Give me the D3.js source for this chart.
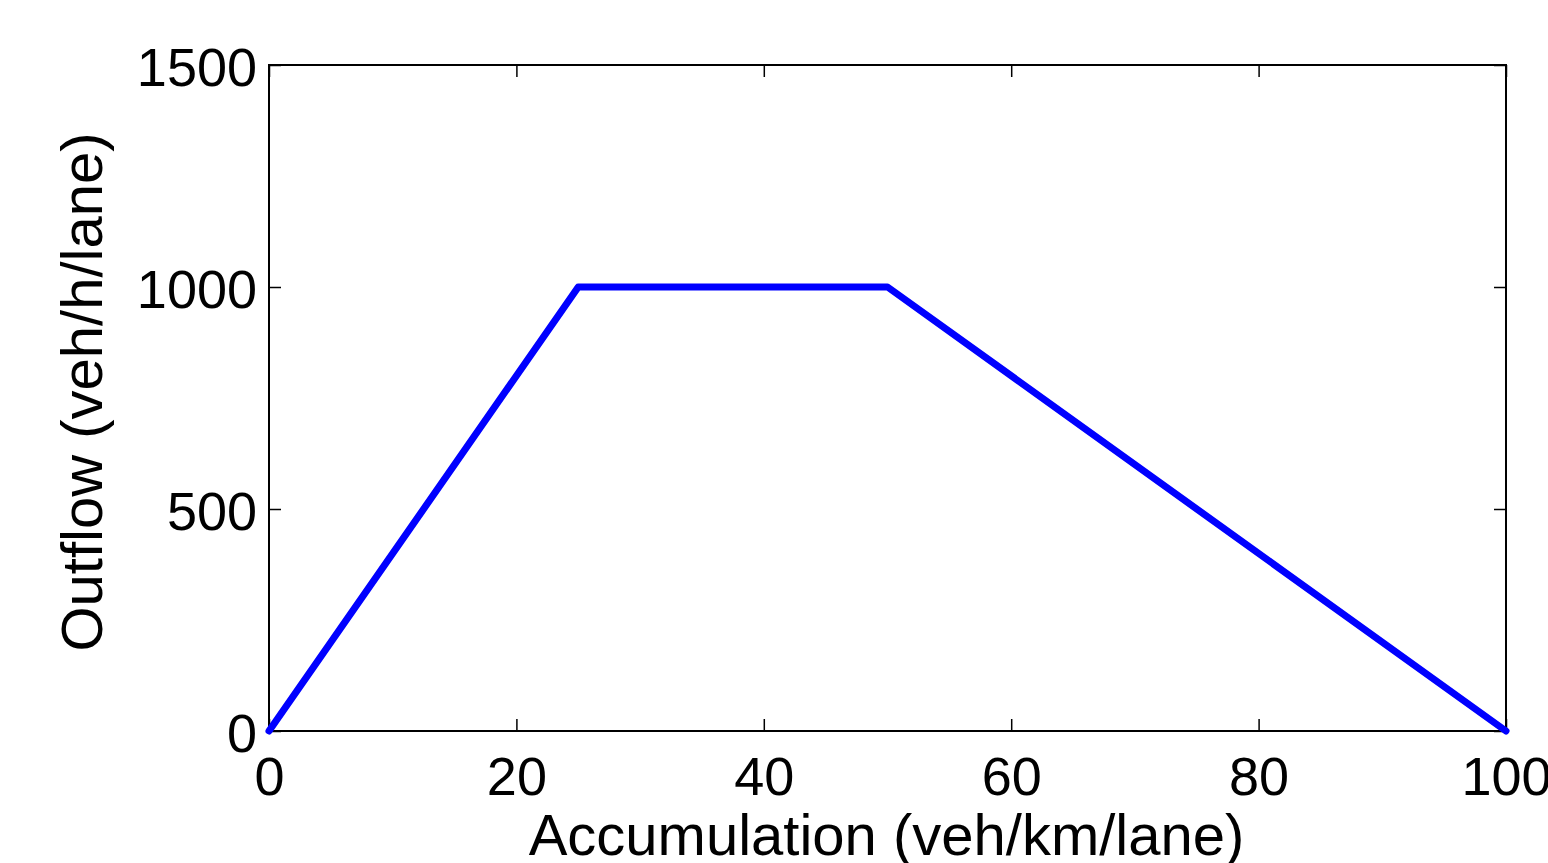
<!DOCTYPE html>
<html>
<head>
<meta charset="utf-8">
<script src="https://cdn.jsdelivr.net/npm/d3@7"></script>
<style>
  body { margin: 0; background: #fff; }
  text { font-family: "Liberation Sans", Arial, sans-serif; fill: #000; }
</style>
</head>
<body>
<div id="chart"></div>
<script>
// data
var accumulation = [0, 25, 50, 100];
var outflow = [0, 1000, 1000, 0];
var xTicks = [0, 20, 40, 60, 80, 100];
var yTicks = [0, 500, 1000, 1500];

var W = 1548, H = 863;
var margin = {top: 65, right: 42, bottom: 132, left: 269};
var width = W - margin.left - margin.right,
    height = H - margin.top - margin.bottom;

var svg = d3.select("#chart")
  .append("svg")
  .attr("width", W)
  .attr("height", H);

var g = svg.append("g")
  .attr("transform", "translate(" + margin.left + "," + margin.top + ")");

var x = d3.scaleLinear().domain([0, 100]).range([0, width]);
var y = d3.scaleLinear().domain([0, 1500]).range([height, 0]);

// ticks on all four sides, pointing inwards
var tickLen = 12;
function styleAxis(sel) {
  sel.select(".domain").remove();
  sel.selectAll(".tick line").attr("stroke", "#000").attr("stroke-width", 1.5);
  sel.selectAll("text").style("font-size", "54px").attr("fill", "#000");
}

g.append("g")
  .attr("transform", "translate(0," + height + ")")
  .call(d3.axisBottom(x).tickValues(xTicks).tickFormat(d3.format("d"))
    .tickSizeInner(-tickLen).tickSizeOuter(0).tickPadding(0))
  .call(styleAxis)
  .call(function(s) { s.selectAll("text").attr("y", 64).attr("dy", null); });

g.append("g")
  .call(d3.axisTop(x).tickValues(xTicks).tickSizeInner(-tickLen).tickSizeOuter(0).tickFormat(""))
  .call(styleAxis);

g.append("g")
  .call(d3.axisLeft(y).tickValues(yTicks).tickFormat(d3.format("d"))
    .tickSizeInner(-tickLen).tickSizeOuter(0).tickPadding(0))
  .call(styleAxis)
  .call(function(s) { s.selectAll("text").attr("x", -12).attr("dy", "20px"); });

g.append("g")
  .attr("transform", "translate(" + width + ",0)")
  .call(d3.axisRight(y).tickValues(yTicks).tickSizeInner(-tickLen).tickSizeOuter(0).tickFormat(""))
  .call(styleAxis);

// box
g.append("rect")
  .attr("x", 0).attr("y", 0)
  .attr("width", width).attr("height", height)
  .attr("fill", "none")
  .attr("stroke", "#000")
  .attr("stroke-width", 2);

// the curve
var pts = accumulation.map(function(d, i) { return [d, outflow[i]]; });
g.append("path")
  .datum(pts)
  .attr("fill", "none")
  .attr("stroke", "#0000ff")
  .attr("stroke-width", 7)
  .attr("stroke-linejoin", "round")
  .attr("stroke-linecap", "round")
  .attr("d", d3.line().x(function(d) { return x(d[0]); }).y(function(d) { return y(d[1]); }));

// axis titles (cut at the page edge, as in the original figure)
svg.append("text")
  .attr("x", margin.left + width / 2 - 1)
  .attr("y", 855)
  .attr("text-anchor", "middle")
  .style("font-size", "58px")
  .text("Accumulation (veh/km/lane)");

svg.append("text")
  .attr("transform", "translate(102," + (margin.top + height / 2 - 6) + ") rotate(-90)")
  .attr("text-anchor", "middle")
  .style("font-size", "58px")
  .text("Outflow (veh/h/lane)");
</script>
</body>
</html>
